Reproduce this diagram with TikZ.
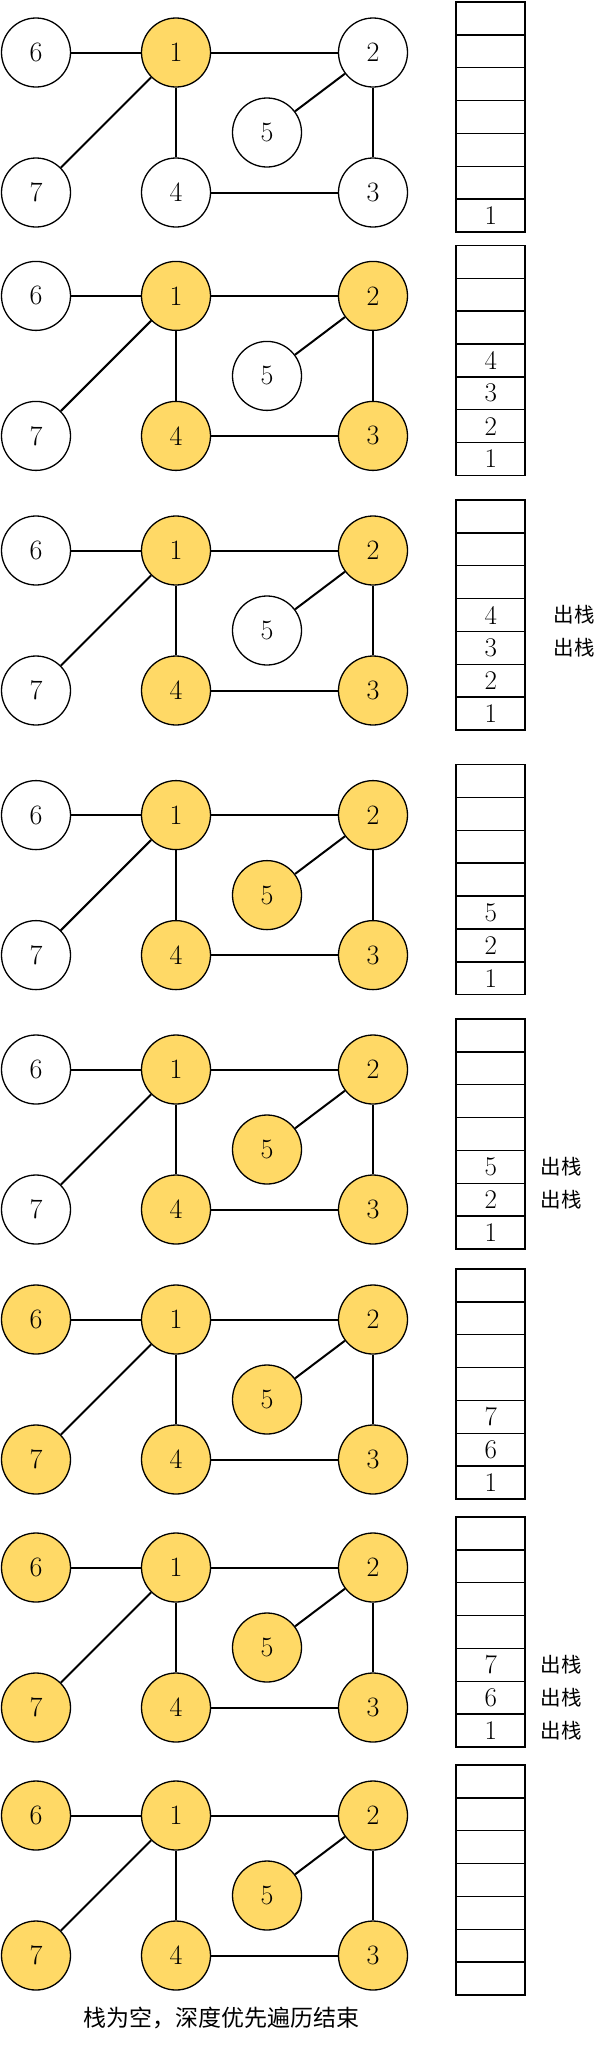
\documentclass[tikz,border=0pt]{standalone}
\usepackage{fontspec}
\newfontfamily\cjk{Noto Sans CJK SC}
\usetikzlibrary{positioning}
\definecolor{visitfill}{HTML}{FFD966}

\begin{document}
\begin{tikzpicture}[
  x=1pt, y=-1pt,
  vertex/.style={circle, draw, line width=1.3pt, minimum size=69pt, inner sep=0pt, font=\fontsize{28}{28}\selectfont},
  seen/.style={vertex, fill=visitfill},
  edge/.style={line width=2pt},
  cell/.style={draw, line width=1.5pt, minimum width=69pt, minimum height=32.86pt, inner sep=0pt, font=\fontsize{27}{27}\selectfont},
  pop/.style={font=\cjk\fontsize{20.5}{20.5}\selectfont, inner sep=0pt}
]
\useasboundingbox (0,0) rectangle (609,2046);

\foreach \p/\t/\m/\stk/\pops/\gap in {
  1/2/1/{,,,,,,1}/0/0,
  2/245.4/4/{,,,4,3,2,1}/0/0,
  3/500/4/{,,,4,3,2,1}/{4,5}/27.6,
  4/764.6/5/{,,,,5,2,1}/0/0,
  5/1019/5/{,,,,5,2,1}/{5,6}/14.6,
  6/1269/7/{,,,,7,6,1}/0/0,
  7/1517/7/{,,,,7,6,1}/{5,6,7}/14.6,
  8/1765/7/{,,,,,,}/0/0}{
  \foreach \n/\x/\y in {1/176/50.5, 2/373/50.5, 3/373/190.5, 4/176/190.5,
                        5/267/130.5, 6/36/50.5, 7/36/190.5}{
    \ifnum\n>\m \def\sty{vertex}\else\def\sty{seen}\fi
    \node[\sty] (p\p-\n) at (\x,{\t+\y}) {\n};
  }
  \foreach \a/\b in {6/1, 1/2, 1/7, 1/4, 2/5, 2/3, 4/3}
    \draw[edge] (p\p-\a) -- (p\p-\b);
  \foreach \s [count=\k] in \stk
    \node[cell] (p\p-c\k) at (490.7,{\t+(\k-0.5)*32.86}) {\s};
  \foreach \c in \pops{
    \ifnum\c>0 \node[pop, right=\gap pt of p\p-c\c] (p\p-pop\c) {出栈};\fi
  }
}

\node[font=\cjk\fontsize{23}{23}\selectfont, inner sep=0pt] (caption) at (221.4,2017.5) {栈为空，深度优先遍历结束};
\end{tikzpicture}
\end{document}
